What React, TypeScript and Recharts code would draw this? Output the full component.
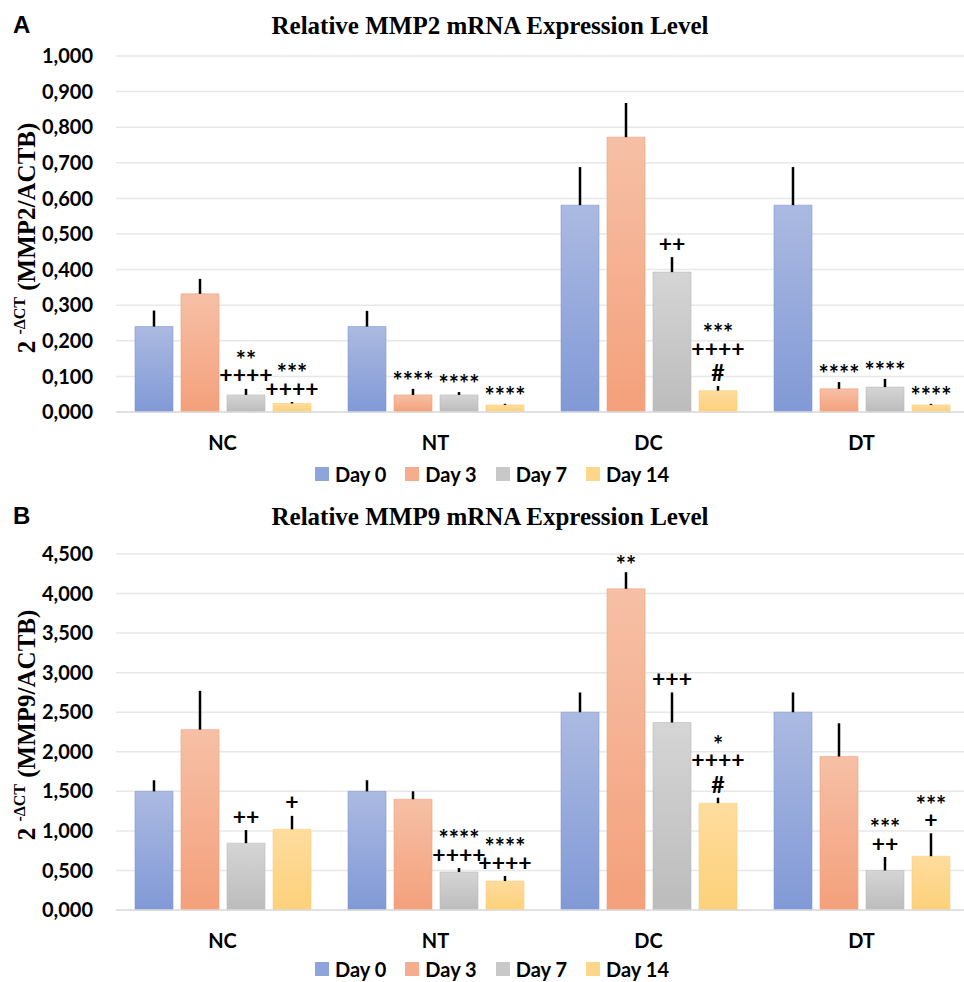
import { BarChart, Bar, XAxis, YAxis, CartesianGrid, ErrorBar, LabelList, Legend } from 'recharts'

const groups = ['NC', 'NT', 'DC', 'DT']
const days = ['Day 0', 'Day 3', 'Day 7', 'Day 14']

// MMP2, values per group (NC, NT, DC, DT)
const mmp2Day0 = [0.240, 0.240, 0.581, 0.581]
const mmp2Day3 = [0.332, 0.048, 0.772, 0.065]
const mmp2Day7 = [0.048, 0.048, 0.393, 0.070]
const mmp2Day14 = [0.024, 0.020, 0.060, 0.020]
const mmp2Err0 = [0.045, 0.044, 0.107, 0.107]
const mmp2Err3 = [0.042, 0.017, 0.096, 0.019]
const mmp2Err7 = [0.017, 0.008, 0.042, 0.023]
const mmp2Err14 = [0.004, 0.003, 0.013, 0.003]
const mmp2Marks0 = ['', '', '', '']
const mmp2Marks3 = ['', '****', '', '****']
const mmp2Marks7 = ['**\n++++', '****', '++', '****']
const mmp2Marks14 = ['***\n++++', '****', '***\n++++\n#', '****']
const mmp2Ticks = [0, 0.1, 0.2, 0.3, 0.4, 0.5, 0.6, 0.7, 0.8, 0.9, 1.0]

// MMP9
const mmp9Day0 = [1.50, 1.50, 2.50, 2.50]
const mmp9Day3 = [2.28, 1.40, 4.06, 1.94]
const mmp9Day7 = [0.845, 0.48, 2.37, 0.50]
const mmp9Day14 = [1.02, 0.366, 1.35, 0.68]
const mmp9Err0 = [0.14, 0.14, 0.25, 0.25]
const mmp9Err3 = [0.49, 0.10, 0.21, 0.42]
const mmp9Err7 = [0.165, 0.05, 0.38, 0.17]
const mmp9Err14 = [0.17, 0.064, 0.07, 0.29]
const mmp9Marks0 = ['', '', '', '']
const mmp9Marks3 = ['', '', '**', '']
const mmp9Marks7 = ['++', '****\n++++', '+++', '***\n++']
const mmp9Marks14 = ['+', '****\n++++', '*\n++++\n#', '***\n+']
const mmp9Ticks = [0, 0.5, 1.0, 1.5, 2.0, 2.5, 3.0, 3.5, 4.0, 4.5]

const gradTop = ['#abbae1', '#f6c0a6', '#d5d5d5', '#fedc9e']
const gradBottom = ['#8199d6', '#f4a07b', '#bcbcbc', '#fdd17a']
const legendColors = ['#8ea4da', '#f5ad8d', '#c8c8c8', '#fdd68a']

const sans = "Lato, 'Open Sans', sans-serif"
const serif = "'Liberation Serif', 'Times New Roman', serif"

function buildRows(means: number[][], errs: number[][], marks: string[][]) {
    return groups.map((g, i) => {
        const row: any = { group: g }
        means.forEach((m, d) => {
            row['v' + d] = m[i]
            row['e' + d] = [0, errs[d][i]]
            row['m' + d] = marks[d][i]
        })
        return row
    })
}

function markRenderer(vals: number[], errs: number[]) {
    return (props: any) => {
        const { x, y, width, height, value, index } = props
        if (!value) return null
        const pxPerUnit = height / vals[index]
        const errTop = y - errs[index] * pxPerUnit
        const lines = String(value).split('\n')
        const cx = x + width / 2
        const endsWithHash = lines[lines.length - 1] === '#'
        // one text node, one tspan per stacked line
        return (
            <text x={cx} textAnchor="middle" fontFamily={sans} fontWeight={700} fill="#000">
                {lines.map((line, k) => {
                    const fromBottom = lines.length - 1 - k
                    const center = errTop - 13 - fromBottom * 21 - (endsWithHash && fromBottom > 0 ? 3 : 0)
                    const star = line[0] === '*'
                    const size = star ? 24 : 23
                    const base = center + (star ? 0.6 * size : line === '#' ? 0.36 * size : 0.33 * size)
                    return (
                        <tspan key={k} x={cx} y={base} fontSize={size}>
                            {line}
                        </tspan>
                    )
                })}
            </text>
        )
    }
}

function DayLegend() {
    return (
        <div style={{ display: 'flex', justifyContent: 'center', alignItems: 'center', fontFamily: sans, fontWeight: 700, fontSize: 20, color: '#000', lineHeight: '22px' }}>
            {days.map((d, i) => (
                <div key={d} style={{ display: 'flex', alignItems: 'center', marginRight: i < 3 ? 19 : 0 }}>
                    <span style={{ display: 'inline-block', width: 14, height: 14, background: legendColors[i], marginRight: 6 }} />
                    <span>{d}</span>
                </div>
            ))}
        </div>
    )
}

interface PanelProps {
    letter: string
    gene: string
    means: number[][]
    errs: number[][]
    marks: string[][]
    ticks: number[]
    top: number
    labelY: number
    legendGap: number
}

function Panel({ letter, gene, means, errs, marks, ticks, top, labelY, legendGap }: PanelProps) {
    const rows = buildRows(means, errs, marks)
    const id = letter.toLowerCase()
    const max = ticks[ticks.length - 1]
    return (
        <div style={{ position: 'relative', width: 964, height: 491 }}>
            <BarChart
                width={968}
                height={491}
                data={rows}
                margin={{ top: top, right: 0, left: 0, bottom: 451 - top - 356 }}
                barGap={8}
            >
                <defs>
                    {gradTop.map((c, d) => (
                        <linearGradient key={d} id={`${id}-g${d}`} x1="0" y1="0" x2="0" y2="1">
                            <stop offset="0%" stopColor={c} />
                            <stop offset="100%" stopColor={gradBottom[d]} />
                        </linearGradient>
                    ))}
                </defs>
                <CartesianGrid vertical={false} stroke="#e8e8e8" strokeWidth={1.5} />
                <XAxis
                    dataKey="group"
                    height={40}
                    tickLine={false}
                    tickSize={0}
                    tickMargin={24}
                    axisLine={{ stroke: '#dcdcdc', strokeWidth: 1.5 }}
                    tick={{ fill: '#000', fontFamily: sans, fontWeight: 700, fontSize: 20 }}
                />
                <YAxis
                    width={116}
                    domain={[0, max]}
                    ticks={ticks}
                    interval={0}
                    axisLine={false}
                    tickLine={false}
                    tickSize={0}
                    tickMargin={23}
                    tickFormatter={(v: number) => v.toFixed(3).replace('.', ',')}
                    tick={{ fill: '#000', fontFamily: sans, fontWeight: 700, fontSize: 20 }}
                />
                <Legend
                    layout="horizontal"
                    verticalAlign="middle"
                    align="center"
                    content={<DayLegend />}
                    wrapperStyle={{ top: top + 356 + legendGap, left: 0, width: 984 }}
                />
                {means.map((vals, d) => (
                    <Bar
                        key={d}
                        dataKey={'v' + d}
                        name={days[d]}
                        barSize={38}
                        fill={`url(#${id}-g${d})`}
                        stroke={gradBottom[d]}
                        strokeOpacity={0.6}
                        isAnimationActive={false}
                    >
                        <ErrorBar dataKey={'e' + d} width={0} stroke="#000" strokeWidth={2.5} direction="y" isAnimationActive={false} />
                        <LabelList dataKey={'m' + d} content={markRenderer(vals, errs[d])} />
                    </Bar>
                ))}
            </BarChart>
            <svg width={964} height={491} style={{ position: 'absolute', top: 0, left: 0, pointerEvents: 'none' }}>
                <text x={13} y={33} fontFamily="'Liberation Sans', Arial, sans-serif" fontWeight={700} fontSize={24} fill="#000">
                    {letter}
                </text>
                <text x={490} y={34} textAnchor="middle" fontFamily={serif} fontWeight={700} fontSize={25} fill="#000">
                    Relative {gene} mRNA Expression Level
                </text>
                <text
                    transform={`translate(35, ${labelY}) rotate(-90)`}
                    textAnchor="middle"
                    fontFamily={serif}
                    fontWeight={700}
                    fontSize={25}
                    fill="#000"
                >
                    2 <tspan fontSize={16} dy={-10}>-ΔCT</tspan>
                    <tspan fontSize={25} dy={10}> ({gene}/ACTB)</tspan>
                </text>
            </svg>
        </div>
    )
}

export default function App() {
    return (
        <div style={{ position: 'absolute', top: 0, left: 0, width: 964, height: 982, overflow: 'hidden', background: '#fff' }}>
            <Panel
                letter="A"
                gene="MMP2"
                means={[mmp2Day0, mmp2Day3, mmp2Day7, mmp2Day14]}
                errs={[mmp2Err0, mmp2Err3, mmp2Err7, mmp2Err14]}
                marks={[mmp2Marks0, mmp2Marks3, mmp2Marks7, mmp2Marks14]}
                ticks={mmp2Ticks}
                top={56}
                labelY={238}
                legendGap={51}
            />
            <Panel
                letter="B"
                gene="MMP9"
                means={[mmp9Day0, mmp9Day3, mmp9Day7, mmp9Day14]}
                errs={[mmp9Err0, mmp9Err3, mmp9Err7, mmp9Err14]}
                marks={[mmp9Marks0, mmp9Marks3, mmp9Marks7, mmp9Marks14]}
                ticks={mmp9Ticks}
                top={63}
                labelY={234}
                legendGap={48}
            />
        </div>
    )
}
